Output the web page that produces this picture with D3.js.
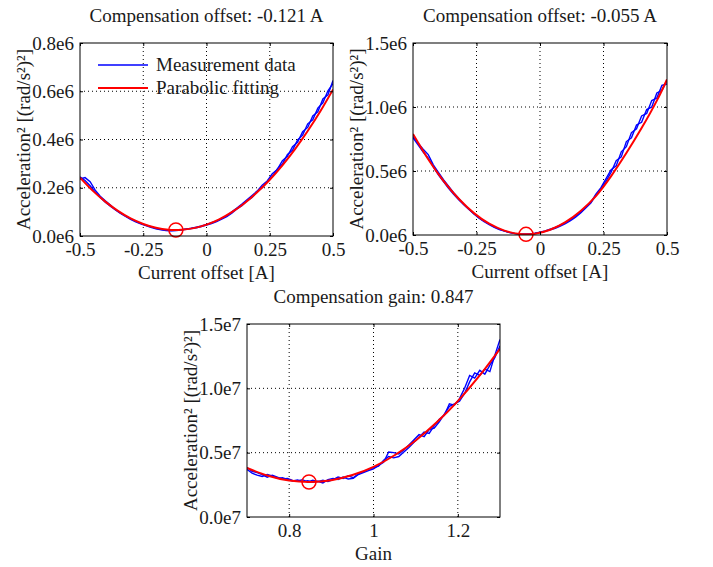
<!DOCTYPE html>
<html>
<head>
<meta charset="utf-8">
<script src="https://d3js.org/d3.v7.min.js"></script>
<style>
body { margin: 0; background: #fff; }
text { font-family: "Liberation Serif", serif; font-size: 19px; fill: #1a1a1a; }
</style>
</head>
<body>
<svg width="713" height="567"></svg>
<script>
// ---- data (acceleration^2 in units of 1e6 for the top plots, 1e7 for the bottom one) ----
var offsetGrid = d3.range(51).map(function(i) { return -0.5 + i * 0.02; });
var gainGrid = d3.range(51).map(function(i) { return 0.7 + i * 0.012; });
var fitOffsetGrid = d3.range(21).map(function(i) { return -0.5 + i * 0.05; });
var fitGainGrid = d3.range(13).map(function(i) { return 0.7 + i * 0.05; });

// panel 1 : offset sweep, first axis
var meas1Up = [0.236,0.242,0.225,0.190,0.165,0.146,0.128,0.110,0.096,0.083,0.071,0.062,0.052,0.045,0.039,0.032,0.028,0.024,0.023,0.024,0.026,0.029,0.031,0.034,0.039,0.045,0.051,0.060,0.070,0.080,0.095,0.112,0.126,0.146,0.160,0.184,0.200,0.226,0.246,0.278,0.298,0.338,0.355,0.398,0.418,0.465,0.482,0.530,0.552,0.602,0.632];
var meas1Down = [0.245,0.230,0.208,0.182,0.160,0.140,0.124,0.108,0.094,0.081,0.069,0.059,0.050,0.043,0.036,0.030,0.026,0.023,0.022,0.023,0.025,0.028,0.032,0.037,0.042,0.048,0.055,0.063,0.072,0.083,0.100,0.116,0.132,0.150,0.168,0.186,0.210,0.228,0.258,0.276,0.312,0.330,0.370,0.388,0.432,0.450,0.498,0.515,0.568,0.585,0.645];
var fit1 = [0.242,0.188,0.1425,0.104,0.073,0.050,0.034,0.026,0.0257,0.0326,0.047,0.069,0.099,0.136,0.181,0.233,0.293,0.360,0.435,0.517,0.607];

// panel 2 : offset sweep, second axis
var meas2Up = [0.770,0.718,0.670,0.628,0.548,0.490,0.432,0.382,0.330,0.285,0.240,0.203,0.165,0.132,0.105,0.080,0.060,0.042,0.030,0.019,0.012,0.008,0.006,0.008,0.013,0.020,0.028,0.040,0.052,0.070,0.088,0.112,0.140,0.172,0.210,0.250,0.310,0.360,0.420,0.490,0.580,0.610,0.730,0.760,0.860,0.880,0.980,1.000,1.110,1.130,1.210];
var meas2Down = [0.760,0.705,0.648,0.600,0.535,0.470,0.418,0.365,0.318,0.275,0.236,0.200,0.166,0.136,0.110,0.086,0.064,0.046,0.032,0.021,0.013,0.009,0.007,0.009,0.014,0.022,0.032,0.046,0.060,0.077,0.096,0.120,0.148,0.178,0.214,0.255,0.320,0.370,0.440,0.510,0.540,0.650,0.690,0.800,0.830,0.930,0.950,1.050,1.070,1.170,1.180];
var fit2 = [0.789,0.592,0.423,0.283,0.171,0.088,0.034,0.0075,0.0099,0.041,0.100,0.188,0.304,0.460,0.640,0.835,1.050,1.215];
var fit2Grid = [-0.5,-0.44,-0.38,-0.32,-0.26,-0.2,-0.14,-0.08,-0.02,0.04,0.1,0.16,0.22,0.28,0.34,0.4,0.46,0.5];

// panel 3 : gain sweep
var meas3Up = [0.370,0.340,0.325,0.315,0.330,0.320,0.300,0.305,0.292,0.280,0.288,0.275,0.282,0.270,0.278,0.265,0.290,0.300,0.292,0.310,0.295,0.300,0.330,0.345,0.360,0.375,0.400,0.425,0.505,0.500,0.490,0.520,0.560,0.600,0.640,0.625,0.680,0.690,0.740,0.800,0.860,0.880,0.900,0.960,1.050,1.120,1.100,1.150,1.130,1.260,1.380];
var meas3Down = [0.385,0.355,0.345,0.330,0.310,0.325,0.310,0.295,0.300,0.285,0.280,0.290,0.270,0.285,0.275,0.285,0.275,0.290,0.310,0.300,0.320,0.305,0.335,0.350,0.370,0.385,0.395,0.440,0.470,0.460,0.470,0.505,0.540,0.580,0.620,0.660,0.650,0.710,0.760,0.790,0.880,0.870,0.920,1.000,1.100,1.080,1.140,1.110,1.180,1.240,1.330];
var fit3 = [0.381,0.320,0.283,0.272,0.286,0.326,0.390,0.480,0.595,0.736,0.901,1.092,1.308];

// optimum found by the fit
var optima = [[-0.121, 0.025], [-0.055, 0.005], [0.847, 0.272]];
var titles = ["Compensation offset: -0.121 A", "Compensation offset: -0.055 A", "Compensation gain: 0.847"];

// ticks
var offsetTicks = [-0.5, -0.25, 0, 0.25, 0.5];
var offsetTickLabels = ["-0.5", "-0.25", "0", "0.25", "0.5"];
var gainTicks = [0.8, 1, 1.2];
var gainTickLabels = ["0.8", "1", "1.2"];
var yTicks1 = [0, 0.2, 0.4, 0.6, 0.8];
var yTickLabels1 = ["0.0e6", "0.2e6", "0.4e6", "0.6e6", "0.8e6"];
var yTicks2 = [0, 0.5, 1.0, 1.5];
var yTickLabels2 = ["0.0e6", "0.5e6", "1.0e6", "1.5e6"];
var yTicks3 = [0, 0.5, 1.0, 1.5];
var yTickLabels3 = ["0.0e7", "0.5e7", "1.0e7", "1.5e7"];

var legendLabels = ["Measurement data", "Parabolic fitting"];

var svg = d3.select("svg");
var yLabel = "Acceleration\u00b2 [(rad/s\u00b2)\u00b2]";

var panels = [
  { box: [80, 333, 43, 236], xdom: [-0.5, 0.5], ymax: 0.8, xt: offsetTicks, xtl: offsetTickLabels, yt: yTicks1, ytl: yTickLabels1,
    grid: offsetGrid, meas: [meas1Up, meas1Down], fitX: fitOffsetGrid, fit: fit1, xlabel: "Current offset [A]", legend: true },
  { box: [413, 667, 43, 235], xdom: [-0.5, 0.5], ymax: 1.5, xt: offsetTicks, xtl: offsetTickLabels, yt: yTicks2, ytl: yTickLabels2,
    grid: offsetGrid, meas: [meas2Up, meas2Down], fitX: fit2Grid, fit: fit2, xlabel: "Current offset [A]" },
  { box: [247, 500, 324, 517], xdom: [0.7, 1.3], ymax: 1.5, xt: gainTicks, xtl: gainTickLabels, yt: yTicks3, ytl: yTickLabels3,
    grid: gainGrid, meas: [meas3Up, meas3Down], fitX: fitGainGrid, fit: fit3, xlabel: "Gain" }
];

panels.forEach(function(p, k) {
  var x0 = p.box[0], x1 = p.box[1], y0 = p.box[2], y1 = p.box[3];
  var x = d3.scaleLinear().domain(p.xdom).range([x0, x1]);
  var y = d3.scaleLinear().domain([0, p.ymax]).range([y1, y0]);
  var g = svg.append("g");

  // dotted grid
  g.selectAll(".gx").data(p.xt.filter(function(t) { return t > p.xdom[0] && t < p.xdom[1]; }))
    .enter().append("line")
    .attr("x1", function(d) { return x(d); }).attr("x2", function(d) { return x(d); })
    .attr("y1", y0).attr("y2", y1)
    .attr("stroke", "#000").attr("stroke-width", 1).attr("stroke-dasharray", "1,3");
  g.selectAll(".gy").data(p.yt.filter(function(t) { return t > 0 && t < p.ymax; }))
    .enter().append("line")
    .attr("y1", function(d) { return y(d); }).attr("y2", function(d) { return y(d); })
    .attr("x1", x0).attr("x2", x1)
    .attr("stroke", "#000").attr("stroke-width", 1).attr("stroke-dasharray", "1,3");

  // clip
  svg.append("clipPath").attr("id", "clip" + k).append("rect")
    .attr("x", x0).attr("y", y0).attr("width", x1 - x0).attr("height", y1 - y0);
  var plot = g.append("g").attr("clip-path", "url(#clip" + k + ")");

  var measLine = d3.line()
    .x(function(d, i) { return x(p.grid[i]); })
    .y(function(d) { return y(d); });
  p.meas.forEach(function(m) {
    plot.append("path").attr("d", measLine(m))
      .attr("fill", "none").attr("stroke", "#0000ff").attr("stroke-width", 1.4);
  });

  var fitLine = d3.line()
    .x(function(d, i) { return x(p.fitX[i]); })
    .y(function(d) { return y(d); })
    .curve(d3.curveNatural);
  plot.append("path").attr("d", fitLine(p.fit))
    .attr("fill", "none").attr("stroke", "#ff0000").attr("stroke-width", 2);

  g.append("circle")
    .attr("cx", x(optima[k][0])).attr("cy", y(optima[k][1])).attr("r", 7)
    .attr("fill", "none").attr("stroke", "#ff0000").attr("stroke-width", 1.5);

  // axes
  var ax = g.append("g").attr("transform", "translate(0," + y1 + ")")
    .call(d3.axisBottom(x).tickValues(p.xt).tickSize(-3).tickPadding(7)
      .tickFormat(function(d, i) { return p.xtl[i]; }));
  var ay = g.append("g").attr("transform", "translate(" + x0 + ",0)")
    .call(d3.axisLeft(y).tickValues(p.yt).tickSize(-3).tickPadding(6)
      .tickFormat(function(d, i) { return p.ytl[i]; }));
  var axt = g.append("g").attr("transform", "translate(0," + y0 + ")")
    .call(d3.axisTop(x).tickValues(p.xt).tickSize(-3).tickFormat(""));
  var ayr = g.append("g").attr("transform", "translate(" + x1 + ",0)")
    .call(d3.axisRight(y).tickValues(p.yt).tickSize(-3).tickFormat(""));
  [ax, ay, axt, ayr].forEach(function(a) {
    a.attr("font-family", null).attr("font-size", null);
    a.select(".domain").remove();
    a.selectAll("line").attr("stroke", "#000");
  });
  ax.selectAll("text").attr("dy", "0.71em");

  g.append("rect").attr("x", x0).attr("y", y0).attr("width", x1 - x0).attr("height", y1 - y0)
    .attr("fill", "none").attr("stroke", "#000").attr("stroke-width", 1);

  // labels
  var cx = (x0 + x1) / 2;
  g.append("text").attr("x", cx).attr("y", y0 - 21).attr("text-anchor", "middle").text(titles[k]);
  g.append("text").attr("x", cx).attr("y", y1 + 43).attr("text-anchor", "middle").text(p.xlabel);
  g.append("text").attr("transform", "translate(" + (x0 - 50) + "," + ((y0 + y1) / 2) + ") rotate(-90)")
    .attr("text-anchor", "middle").text(yLabel);

  if (p.legend) {
    var lg = g.append("g");
    var colors = ["#0000ff", "#ff0000"];
    legendLabels.forEach(function(l, i) {
      var ly = 65 + i * 23;
      lg.append("line").attr("x1", 98).attr("x2", 148).attr("y1", ly).attr("y2", ly)
        .attr("stroke", colors[i]).attr("stroke-width", i ? 2 : 1.5);
      lg.append("text").attr("x", 156).attr("y", ly + 6).text(l);
    });
  }
});
</script>
</body>
</html>
